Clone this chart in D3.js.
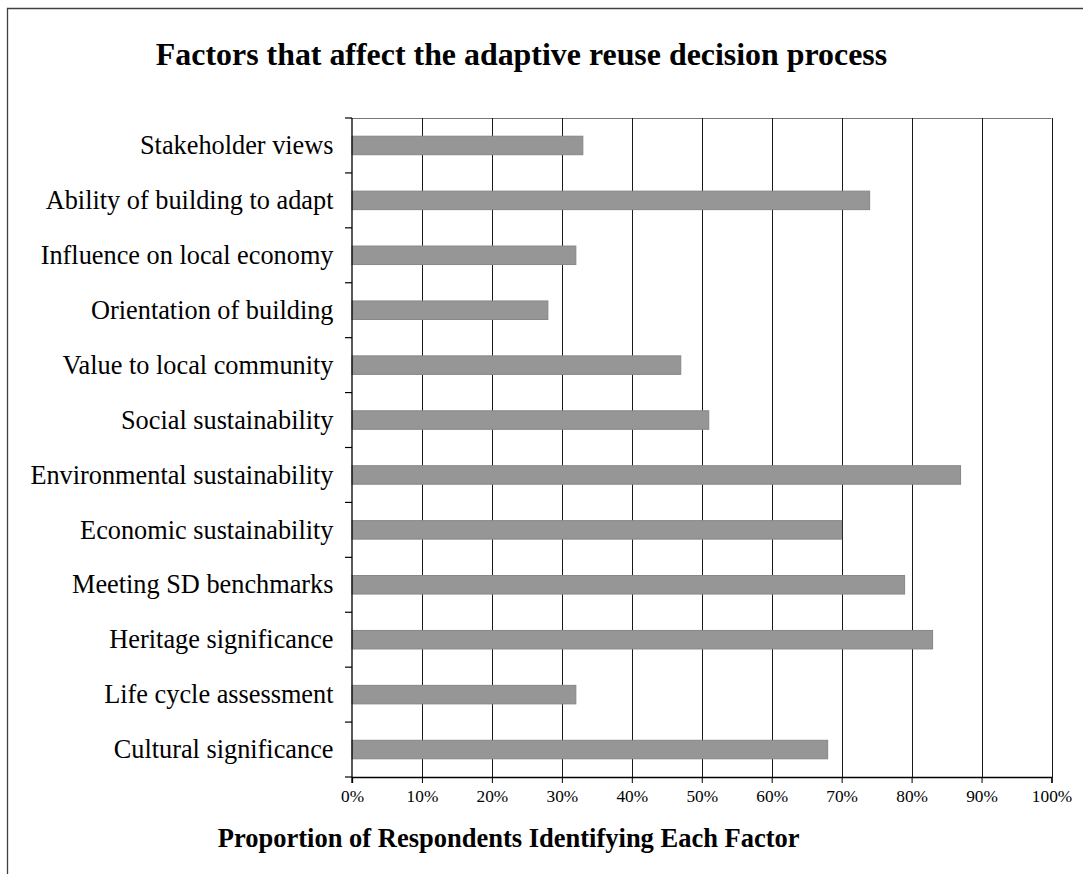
<!DOCTYPE html>
<html>
<head>
<meta charset="utf-8">
<script src="https://cdn.jsdelivr.net/npm/d3@7"></script>
<style>
  html, body { margin: 0; padding: 0; background: #fff; }
  svg { display: block; }
  text { font-family: "Liberation Serif", "Times New Roman", serif; fill: #000; }
</style>
</head>
<body>
<script>
const categories = [
  "Stakeholder views",
  "Ability of building to adapt",
  "Influence on local economy",
  "Orientation of building",
  "Value to local community",
  "Social sustainability",
  "Environmental sustainability",
  "Economic sustainability",
  "Meeting SD benchmarks",
  "Heritage significance",
  "Life cycle assessment",
  "Cultural significance"
];
const values = [0.33, 0.74, 0.32, 0.28, 0.47, 0.51, 0.87, 0.70, 0.79, 0.83, 0.32, 0.68];
const xTicks = [0, 0.1, 0.2, 0.3, 0.4, 0.5, 0.6, 0.7, 0.8, 0.9, 1.0];
const titleText = "Factors that affect the adaptive reuse decision process";
const xAxisTitle = "Proportion of Respondents Identifying Each Factor";

const W = 1083, H = 874;
const pLeft = 352, pRight = 1051.5, pTop = 118, pBottom = 777;

const svg = d3.select("body").append("svg").attr("width", W).attr("height", H);

// outer frame (top and left edges visible)
svg.append("path")
  .attr("d", `M7.5,${H} V8.5 H${W}`)
  .attr("fill", "none").attr("stroke", "#404040").attr("stroke-width", 1.3);

const x = d3.scaleLinear().domain([0, 1]).range([pLeft, pRight]);
const pad = 0.663;
const y = d3.scaleBand().domain(categories).range([pTop, pBottom])
  .paddingInner(pad).paddingOuter(pad / 2);

// plot area top border
svg.append("line")
  .attr("x1", pLeft).attr("x2", pRight).attr("y1", pTop + 0.5).attr("y2", pTop + 0.5)
  .attr("stroke", "#777").attr("stroke-width", 1);

// gridlines
svg.append("g").selectAll("line").data(xTicks.slice(1)).join("line")
  .attr("x1", d => Math.round(x(d)) + 0.5).attr("x2", d => Math.round(x(d)) + 0.5)
  .attr("y1", pTop).attr("y2", pBottom)
  .attr("stroke", "#1a1a1a").attr("stroke-width", 1);

// bars
svg.append("g").selectAll("rect").data(categories).join("rect")
  .attr("x", x(0))
  .attr("y", d => y(d))
  .attr("width", (d, i) => x(values[i]) - x(0))
  .attr("height", y.bandwidth())
  .attr("fill", "#969696")
  .attr("stroke", "#868686")
  .attr("stroke-width", 1);

// x axis
const xAxis = d3.axisBottom(x).tickValues(xTicks).tickFormat(d3.format(".0%"))
  .tickSize(6).tickPadding(7);
const gx = svg.append("g").attr("transform", `translate(0,${pBottom})`).call(xAxis);
gx.select(".domain").attr("stroke", "#000").attr("stroke-width", 1.3);
gx.selectAll(".tick line").attr("stroke", "#000");
gx.selectAll(".tick text")
  .style("font-family", '"Liberation Serif", "Times New Roman", serif')
  .style("font-size", "17.3px").attr("fill", "#000");

// y axis: ticks at category boundaries
const step = y.step();
const yBoundaries = d3.range(categories.length + 1).map(i => pTop + i * step);
svg.append("g").selectAll("line").data(yBoundaries).join("line")
  .attr("x1", pLeft - 7).attr("x2", pLeft)
  .attr("y1", d => d).attr("y2", d => d)
  .attr("stroke", "#000").attr("stroke-width", 1.2);
svg.append("line")
  .attr("x1", pLeft).attr("x2", pLeft).attr("y1", pTop).attr("y2", pBottom + 6)
  .attr("stroke", "#000").attr("stroke-width", 1.3);

// category labels
svg.append("g").selectAll("text").data(categories).join("text")
  .attr("x", 333.5)
  .attr("y", d => y(d) + y.bandwidth() / 2 + 8.7)
  .attr("text-anchor", "end")
  .style("font-size", "26.3px")
  .text(d => d);

// title
svg.append("text")
  .attr("x", 521.5).attr("y", 65)
  .attr("text-anchor", "middle")
  .style("font-size", "31.9px").style("font-weight", "bold")
  .text(titleText);

// x axis title
svg.append("text")
  .attr("x", 508.7).attr("y", 846.5)
  .attr("text-anchor", "middle")
  .style("font-size", "26.5px").style("font-weight", "bold")
  .text(xAxisTitle);
</script>
</body>
</html>
